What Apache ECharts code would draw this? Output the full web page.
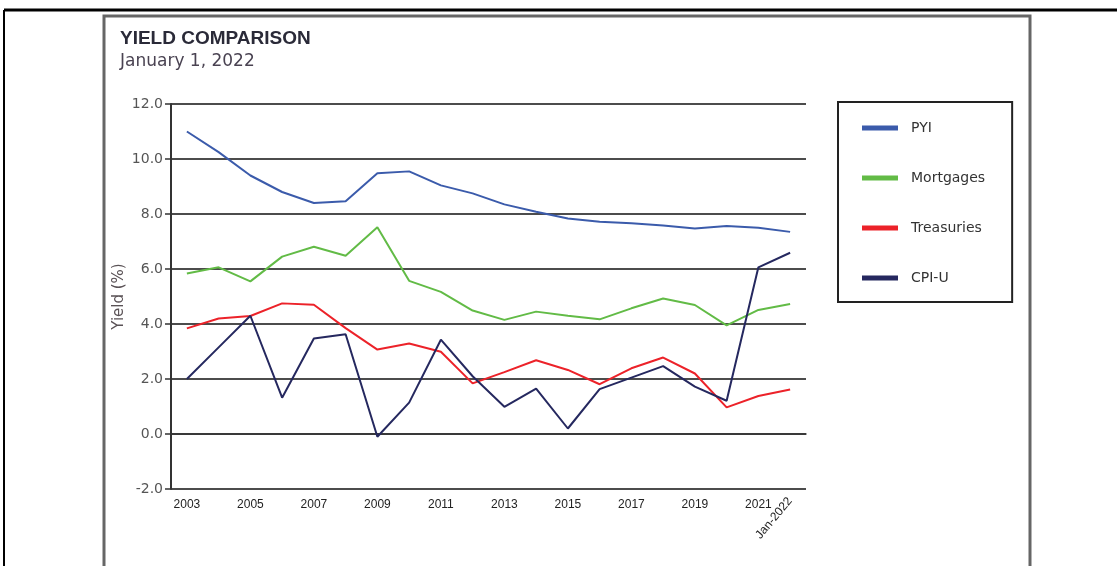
<!DOCTYPE html>
<html>
<head>
<meta charset="utf-8">
<script src="https://cdn.jsdelivr.net/npm/echarts@6/dist/echarts.min.js"></script>
<style>
  html, body { margin: 0; padding: 0; background: #fff; }
  #chart { width: 1117px; height: 566px; }
</style>
</head>
<body>
<div id="chart"></div>
<script>
const years = ['2003', '2004', '2005', '2006', '2007', '2008', '2009', '2010', '2011', '2012',
  '2013', '2014', '2015', '2016', '2017', '2018', '2019', '2020', '2021', 'Jan-2022'];

const pyi = [11.0, 10.25, 9.4, 8.8, 8.4, 8.46, 9.48, 9.55, 9.04, 8.75,
  8.35, 8.08, 7.84, 7.72, 7.66, 7.58, 7.47, 7.56, 7.5, 7.35];
const mortgages = [5.84, 6.06, 5.55, 6.45, 6.81, 6.48, 7.52, 5.57, 5.17, 4.49,
  4.15, 4.45, 4.3, 4.17, 4.57, 4.93, 4.69, 3.95, 4.51, 4.73];
const treasuries = [3.84, 4.2, 4.29, 4.75, 4.7, 3.85, 3.07, 3.29, 2.99, 1.84,
  2.25, 2.68, 2.33, 1.81, 2.39, 2.78, 2.2, 0.97, 1.38, 1.62];
const cpiU = [2.0, 3.15, 4.3, 1.32, 3.47, 3.63, -0.1, 1.14, 3.43, 2.1,
  0.99, 1.65, 0.2, 1.63, 2.05, 2.47, 1.72, 1.21, 6.06, 6.59];

const seriesNames = ['PYI', 'Mortgages', 'Treasuries', 'CPI-U'];
const seriesColors = ['#3b5bab', '#62bb46', '#ec2229', '#25285f'];

const chart = echarts.init(document.getElementById('chart'));

function line(name, data, color) {
  return {
    name: name,
    type: 'line',
    data: data,
    symbol: 'none',
    lineStyle: { width: 2, color: color },
    itemStyle: { color: color },
  };
}

chart.setOption({
  backgroundColor: '#fff',
  animation: false,
  title: {
    text: 'YIELD COMPARISON',
    subtext: 'January 1, 2022',
    left: 120,
    top: 29,
    padding: 0,
    itemGap: 5,
    textStyle: { fontFamily: 'Liberation Sans, Arial', fontWeight: 'bold', fontSize: 19, color: '#2a2a38' },
    subtextStyle: { fontFamily: 'DejaVu Sans', fontSize: 17, color: '#4a4352' },
  },
  graphic: [
    { type: 'line', shape: { x1: 4, y1: 10, x2: 1117, y2: 10 }, style: { stroke: '#000', lineWidth: 3 } },
    { type: 'line', shape: { x1: 4, y1: 10, x2: 4, y2: 566 }, style: { stroke: '#000', lineWidth: 2 } },
    { type: 'rect', shape: { x: 104, y: 16, width: 926, height: 560 }, style: { fill: 'none', stroke: '#666', lineWidth: 3 } },
  ],
  legend: {
    orient: 'vertical',
    left: 838,
    top: 102,
    data: seriesNames,
    icon: 'rect',
    itemWidth: 36,
    itemHeight: 5,
    itemGap: 36,
    padding: [19, 27, 17, 24],
    borderColor: '#222',
    borderWidth: 2,
    textStyle: { fontFamily: 'DejaVu Sans', fontSize: 14, color: '#333', lineHeight: 14, padding: [0, 0, 0, 8] },
  },
  grid: { left: 171, right: 311, top: 104, bottom: 77 },
  xAxis: [
    {
      type: 'category',
      data: years,
      boundaryGap: true,
      axisLine: { lineStyle: { color: '#333', width: 1.5 } },
      axisTick: { alignWithLabel: true, length: 6, lineStyle: { color: '#222', width: 1.5 } },
      axisLabel: {
        interval: (i) => i % 2 === 0 && i < years.length - 1,
        margin: 10,
        fontFamily: 'Liberation Sans, Arial',
        fontSize: 12,
        color: '#222',
      },
    },
    {
      type: 'category',
      data: years,
      position: 'bottom',
      boundaryGap: true,
      axisLine: { show: false },
      axisTick: { show: false },
      axisLabel: {
        interval: (i) => i === years.length - 1,
        rotate: 50,
        margin: 10,
        fontFamily: 'Liberation Sans, Arial',
        fontSize: 12,
        color: '#222',
      },
    },
  ],
  yAxis: {
    type: 'value',
    min: -2,
    max: 12,
    interval: 2,
    name: 'Yield (%)',
    nameLocation: 'middle',
    nameGap: 44,
    nameMoveOverlap: false,
    nameTextStyle: { fontFamily: 'DejaVu Sans', fontSize: 15, color: '#5a5256' },
    axisLine: { show: true, lineStyle: { color: '#333', width: 2 } },
    axisTick: { show: true, length: 6, lineStyle: { color: '#333', width: 1.5 } },
    axisLabel: {
      formatter: (v) => v.toFixed(1),
      margin: 8,
      fontFamily: 'DejaVu Sans',
      fontSize: 14,
      color: '#555',
    },
    splitLine: { lineStyle: { color: '#111', width: 1.6 } },
  },
  series: [
    line(seriesNames[0], pyi, seriesColors[0]),
    line(seriesNames[1], mortgages, seriesColors[1]),
    line(seriesNames[2], treasuries, seriesColors[2]),
    line(seriesNames[3], cpiU, seriesColors[3]),
  ],
});
</script>
</body>
</html>
